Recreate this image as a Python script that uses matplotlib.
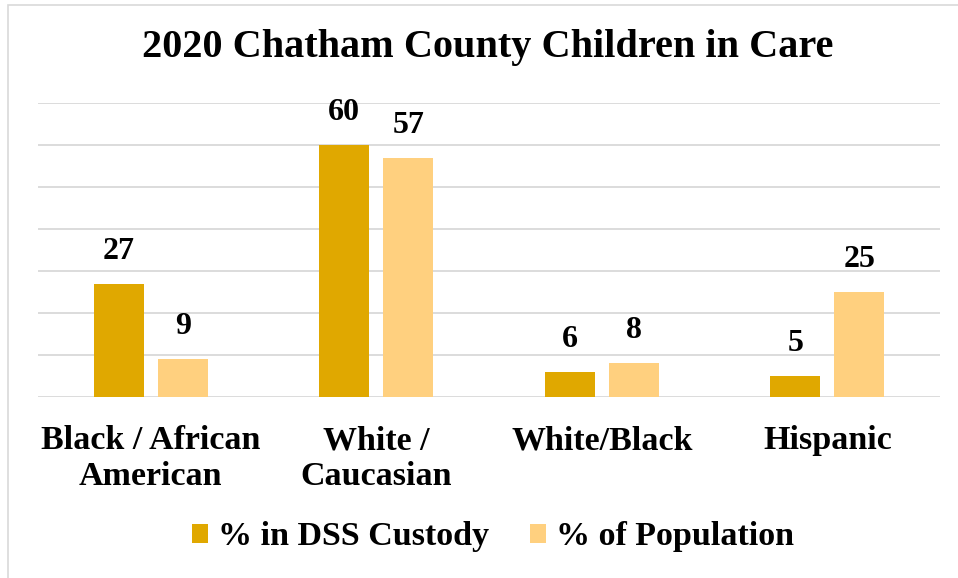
import matplotlib.pyplot as plt
import numpy as np
from matplotlib.patches import Rectangle

categories = ['Black / African\nAmerican', 'White /\nCaucasian', 'White/Black', 'Hispanic']
dss_custody = [27, 60, 6, 5]
population = [9, 57, 8, 25]
series_names = ['% in DSS Custody', '% of Population']

col_dss = '#E0A800'
col_pop = '#FFD07F'
font = 'Liberation Serif'

fig = plt.figure(figsize=(9.58, 5.78), dpi=100)
ax = fig.add_axes([38 / 958, 181 / 578, 902 / 958, 294 / 578])

# thin grey frame around the chart
fig.patches.append(Rectangle((8 / 958, -0.1), 1.2, 1.1 - 5 / 578,
                             transform=fig.transFigure, fill=False,
                             edgecolor='#D9D9D9', linewidth=1.2))

x = np.arange(len(categories))
w = 0.222
off = 0.142
b1 = ax.bar(x - off, dss_custody, w, color=col_dss, label=series_names[0], zorder=3)
b2 = ax.bar(x + off, population, w, color=col_pop, label=series_names[1], zorder=3)

for bars in (b1, b2):
    ax.bar_label(bars, padding=13, fontsize=23, fontweight='bold', family=font)

ax.set_xlim(-0.5, 3.5)
ax.set_ylim(0, 70)
ax.set_yticks(np.arange(0, 71, 10))
ax.yaxis.grid(True, color='#D9D9D9', linewidth=1.3, zorder=0)
ax.tick_params(left=False, bottom=False, labelleft=False)
ax.set_xticks(x)
ax.set_xticklabels(categories, fontsize=24.5, fontweight='bold', family=font, linespacing=1.2)
ax.tick_params(axis='x', pad=17)
for s in ax.spines.values():
    s.set_visible(False)

fig.text(488 / 958, 1 - 48 / 578, '2020 Chatham County Children in Care', ha='center', va='center',
         fontsize=29, fontweight='bold', family=font)

fig.legend(loc='center', bbox_to_anchor=(493 / 958, 1 - 537 / 578), ncol=2, frameon=False,
           prop={'family': font, 'weight': 'bold', 'size': 24.5},
           handlelength=0.47, handleheight=0.47, handletextpad=0.3, columnspacing=1.2)

fig.savefig('out.png', dpi=100)
